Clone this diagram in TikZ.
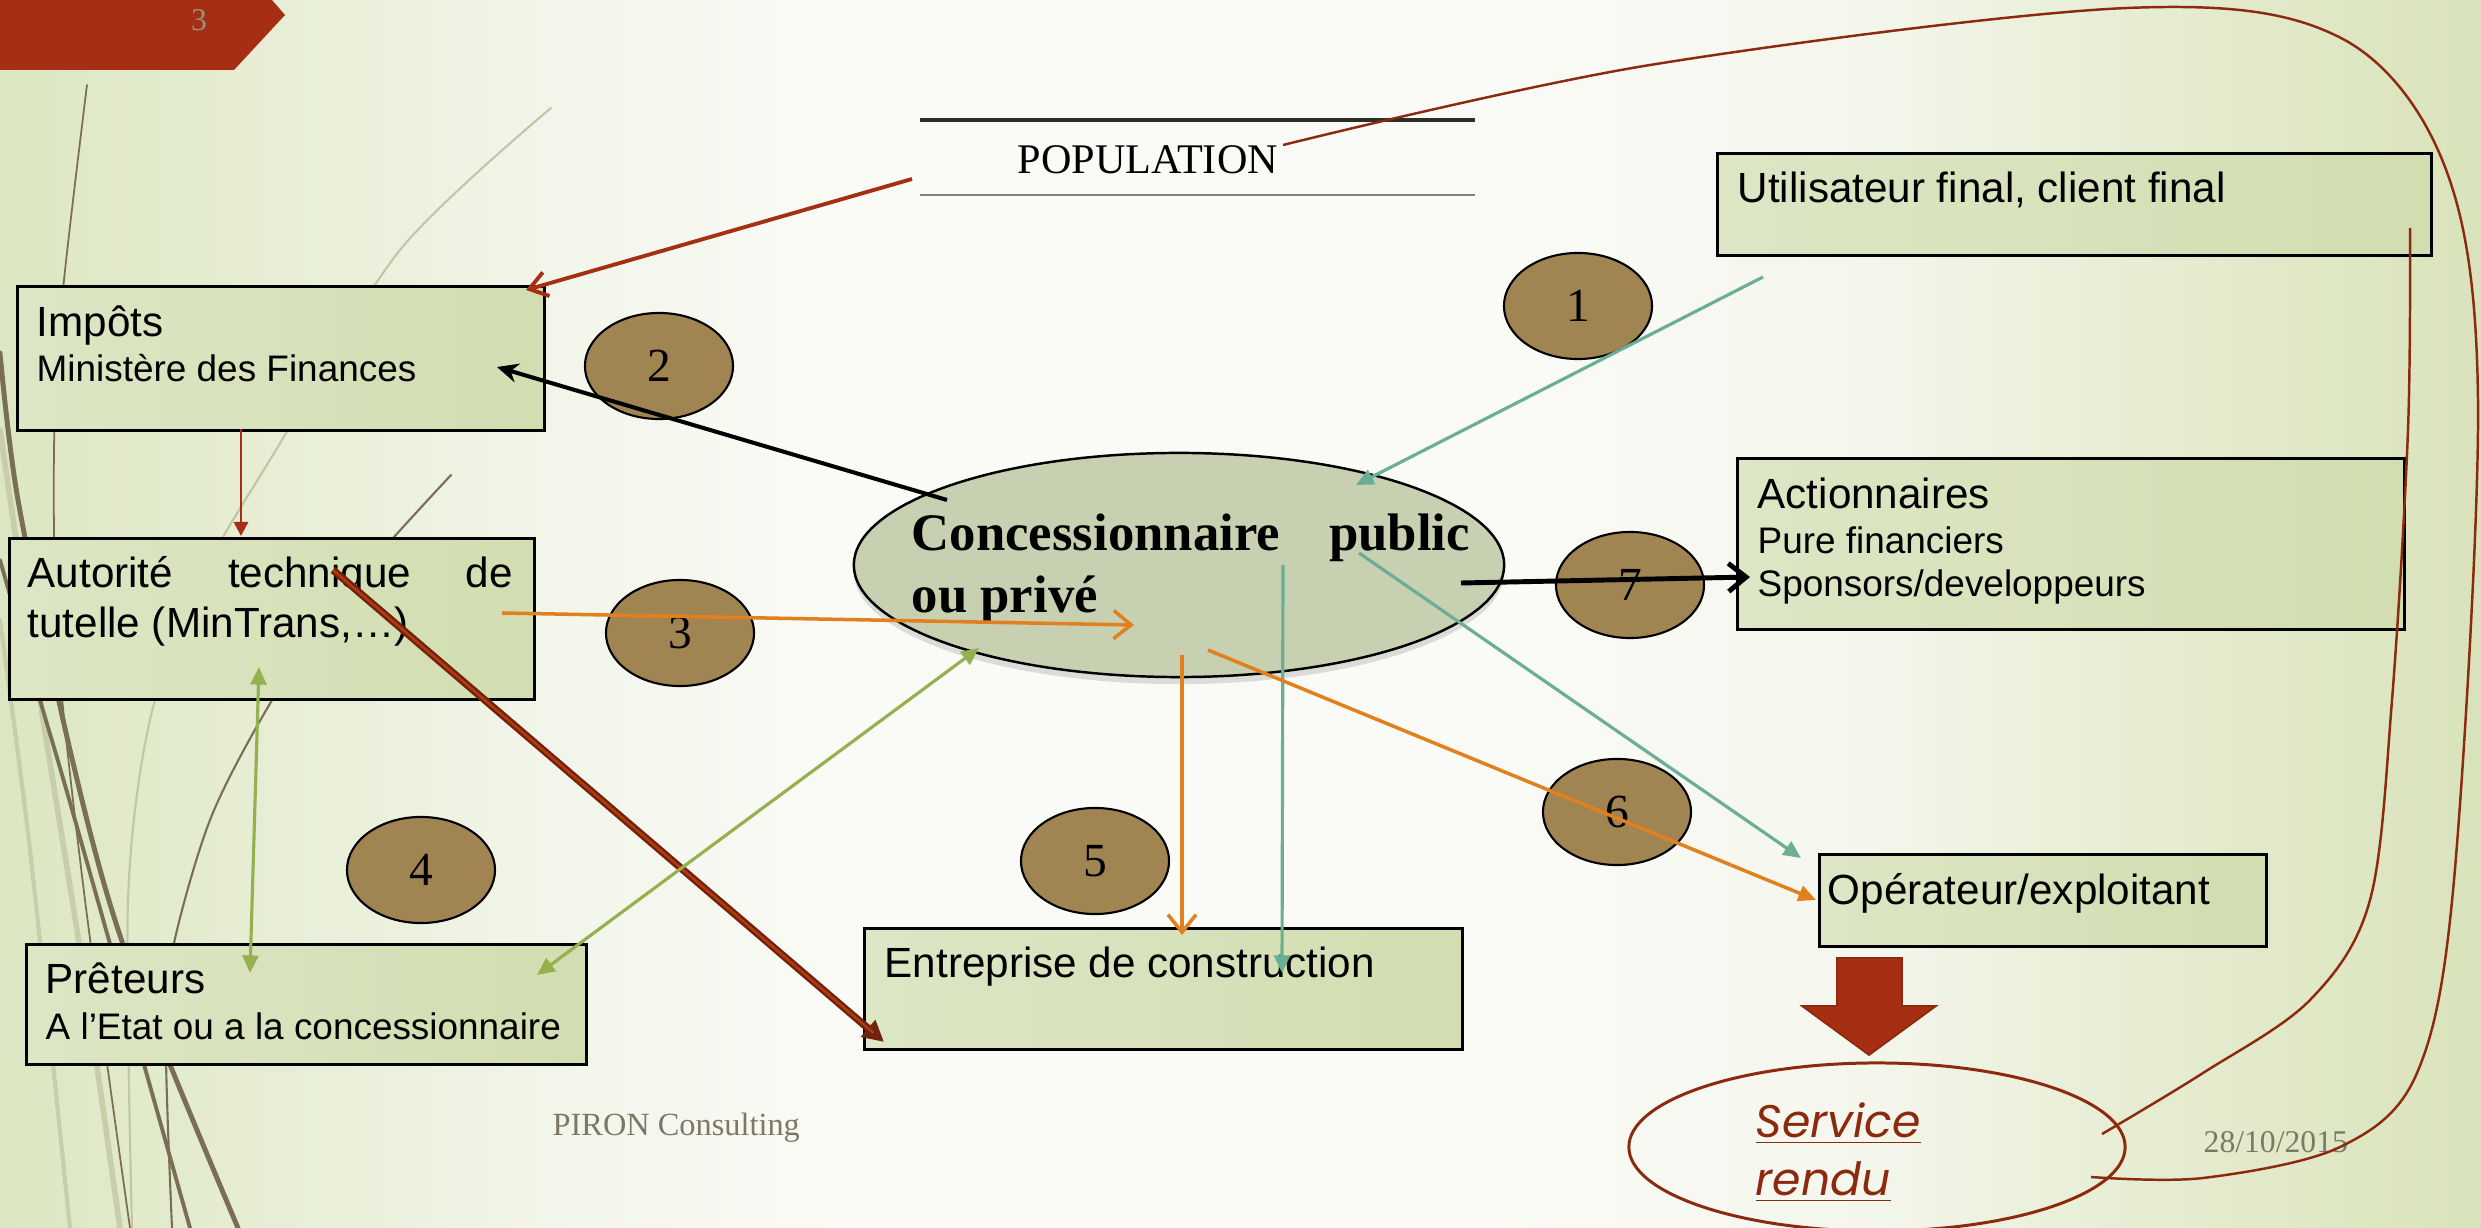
\documentclass[tikz,border=0pt]{standalone}
\usepackage{fontspec}
\setmainfont{Liberation Serif}
\setsansfont{Liberation Sans}
\newfontfamily\geofont{Poppins}
\usetikzlibrary{arrows.meta,calc,shapes.geometric,shadows}

\definecolor{boxL}{HTML}{DDE6C5}
\definecolor{boxR}{HTML}{D2DDB0}
\definecolor{disc}{HTML}{A08452}
\definecolor{ellfill}{HTML}{C7D0B0}
\definecolor{rust}{HTML}{A62E12}
\definecolor{darkrust}{HTML}{8C2A10}
\definecolor{tealc}{HTML}{6AAE96}
\definecolor{orangec}{HTML}{E2801E}
\definecolor{leaf}{HTML}{95B04E}
\definecolor{olive}{HTML}{7A6F56}
\definecolor{paleolive}{HTML}{C9CEAA}
\definecolor{graytext}{HTML}{7D7866}
\definecolor{rulecol}{HTML}{2B2F25}

% slide background: green edges fading to an almost white centre
\definecolor{sA}{HTML}{DCE6C2}
\definecolor{sB}{HTML}{E6EDD3}
\definecolor{sC}{HTML}{F2F5E9}
\definecolor{sD}{HTML}{FAFBF6}
\definecolor{sE}{HTML}{F5F7EE}
\definecolor{sF}{HTML}{E7EDD3}
\definecolor{sG}{HTML}{D9E3BA}
\pgfdeclarehorizontalshading{slidebg}{100bp}{color(0bp)=(sA); color(25bp)=(sA);
  color(30bp)=(sB); color(36bp)=(sC); color(42bp)=(sD); color(55bp)=(sD);
  color(62bp)=(sE); color(68bp)=(sF); color(75bp)=(sG); color(100bp)=(sG)}

\begin{document}
\begin{tikzpicture}[x=0.01cm,y=-0.01cm,
  box/.style={draw=black,line width=0.75pt,left color=boxL,right color=boxR,
    anchor=north west,inner sep=0pt},
  ttl/.style={anchor=base west,inner sep=0pt,font=\sffamily\fontsize{12}{14}\selectfont},
  sub/.style={anchor=base west,inner sep=0pt,font=\sffamily\fontsize{10.5}{12}\selectfont},
  disk/.style={ellipse,draw=black,line width=0.6pt,fill=disc,minimum width=1.48cm,
    minimum height=1.06cm,inner sep=0pt,font=\fontsize{13.5}{15}\selectfont},
  deco/.style={line cap=round},
  ftip/.style={-{Triangle[length=5pt,width=4.5pt]}},
  btip/.style={{Triangle[length=5pt,width=4.5pt]}-{Triangle[length=5pt,width=4.5pt]}}
]
\useasboundingbox (0,0) rectangle (2481,1228);

\shade[shading=slidebg] (0,0) rectangle (2481,1228);

% decorative stems on the left edge
\draw[deco,paleolive,line width=1.6pt] plot[smooth] coordinates {(0,430) (40,700) (80,950) (120,1228)};
\draw[deco,paleolive,line width=1.2pt] plot[smooth] coordinates {(0,620) (30,850) (70,1228)};
\draw[deco,paleolive!90!gray,line width=0.6pt] plot[smooth] coordinates {(551,108) (400,250) (276,450) (200,580) (150,720) (128,900) (132,1228)};
\draw[deco,olive,line width=0.5pt] plot[smooth] coordinates {(87,85) (62,300) (54,450) (58,650) (85,900) (130,1228)};
\draw[deco,olive,line width=1.4pt] plot[smooth] coordinates {(0,353) (18,500) (70,750) (125,950) (238,1228)};
\draw[deco,olive,line width=1.1pt] plot[smooth] coordinates {(0,560) (40,700) (75,820) (190,1228)};
\draw[deco,olive,line width=0.6pt] plot[smooth] coordinates {(451,475) (339,600) (268,707) (210,820) (172,953) (166,1053) (172,1228)};

% slide number tab
\fill[rust] (0,0) -- (272,0) -- (285,15) -- (234,70) -- (0,70) -- cycle;
\node[inner sep=0pt,text=graytext!80!white,font=\fontsize{9}{10}\selectfont] (slnum) at (199,20) {3};

% population heading with its rules
\draw[rulecol,line width=1.4pt] (920,120) -- (1475,120);
\draw[gray,line width=0.3pt] (920,195) -- (1475,195);
\node[anchor=base west,inner sep=0pt,font=\fontsize{12}{14}\selectfont] (pop) at (1017,174) {POPULATION};

% actor boxes
\node[box,minimum width=5.27cm,minimum height=1.44cm] (imp) at (16,285) {};
\node[ttl] (impA) at (36,337) {Impôts};
\node[sub] (impB) at (36,382) {Ministère des Finances};

\node[box,minimum width=7.14cm,minimum height=1.02cm] (util) at (1716,152) {};
\node[ttl] (utilA) at (1737,203) {Utilisateur final, client final};

\node[box,minimum width=5.25cm,minimum height=1.61cm] (aut) at (8,537) {};
\node[ttl] (autA) at (27,588) {\hbox to 4.85cm{Autorité\hfill technique\hfill de}};
\node[ttl] (autB) at (27,638) {tutelle (MinTrans,…)};

\node[box,minimum width=5.60cm,minimum height=1.20cm] (pret) at (25,943) {};
\node[ttl] (pretA) at (45,994) {Prêteurs};
\node[sub] (pretB) at (45,1040) {A l’Etat ou a la concessionnaire};

\node[box,minimum width=5.98cm,minimum height=1.21cm] (entr) at (863,927) {};
\node[ttl] (entrA) at (884,978) {Entreprise de construction};

\node[box,minimum width=6.67cm,minimum height=1.71cm] (act) at (1736,457) {};
\node[ttl] (actA) at (1757,509) {Actionnaires};
\node[sub] (actB) at (1757,554) {Pure financiers};
\node[sub] (actC) at (1757,597) {Sponsors/developpeurs};

\node[box,minimum width=4.47cm,minimum height=0.92cm] (oper) at (1818,853) {};
\node[ttl] (operA) at (1827,905) {Opérateur/exploitant};

% central concessionaire
\node[ellipse,draw=black,line width=0.7pt,fill=ellfill,minimum width=6.5cm,minimum height=2.24cm,
  inner sep=0pt,drop shadow={shadow xshift=0pt,shadow yshift=-2pt,opacity=0.25}] (conc) at (1179,565) {};
\node[anchor=base west,inner sep=0pt,font=\bfseries\fontsize{15}{17}\selectfont] (concA) at (911,551)
  {\hbox to 5.58cm{Concessionnaire\hfill public}};
\node[anchor=base west,inner sep=0pt,font=\bfseries\fontsize{15}{17}\selectfont] (concB) at (911,613) {ou privé};

% numbered discs
\node[disk] (n1) at (1578,306) {1};
\node[disk] (n2) at (659,366) {2};
\node[disk] (n3) at (680,633) {3};
\node[disk] (n4) at (421,870) {4};
\node[disk] (n5) at (1095,861) {5};
\node[disk] (n6) at (1617,812) {6};
\node[disk] (n7) at (1630,585) {7};

% service rendu
\node[ellipse,draw=darkrust,line width=0.85pt,minimum width=4.96cm,minimum height=1.68cm,inner sep=0pt] (serv) at (1877,1147) {};
\node[anchor=base west,inner sep=0pt,text=darkrust,font=\geofont\itshape\fontsize{13}{15}\selectfont] (servA) at (1755,1137) {\underline{Service}};
\node[anchor=base west,inner sep=0pt,text=darkrust,font=\geofont\itshape\fontsize{13}{15}\selectfont] (servB) at (1755,1195) {\underline{rendu}};
\draw[fill=rust,draw=darkrust,line width=0.5pt] (1837,958) -- (1902,958) -- (1902,1006) -- (1936,1006)
  -- (1869,1055) -- (1802,1006) -- (1837,1006) -- cycle;

% footer
\node[anchor=base west,inner sep=0pt,text=graytext,font=\fontsize{9.2}{11}\selectfont] (foot) at (552,1135) {PIRON Consulting};
\node[anchor=base west,inner sep=0pt,text=graytext,font=\fontsize{9}{11}\selectfont] (date) at (2203,1152) {28/10/2015};

% connector end points
\coordinate (popOut) at (912,179);
\coordinate (popCurve) at (1283,145);
\coordinate (impIn) at (526,290);
\coordinate (impBot) at (241,429);
\coordinate (autTop) at (241,536);
\coordinate (concNW) at (947,500);
\coordinate (impTip) at (497,367);
\coordinate (utilOut) at (1763,277);
\coordinate (concTop) at (1356,485);
\coordinate (autOut) at (502,613);
\coordinate (concIn) at (1134,625);
\coordinate (autWord) at (333,570);
\coordinate (entrCorner) at (884,1042);
\coordinate (autLow) at (259,667);
\coordinate (pretTop) at (250,973);
\coordinate (concSW) at (979,648);
\coordinate (pretRight) at (537,975);
\coordinate (concBot) at (1182,655);
\coordinate (entrTop) at (1182,935);
\coordinate (concMid) at (1283,565);
\coordinate (entrText) at (1282,973);
\coordinate (concSE) at (1208,650);
\coordinate (operL) at (1816,900);
\coordinate (concE) at (1359,553);
\coordinate (operNW) at (1801,858);
\coordinate (concR) at (1461,583);
\coordinate (actL) at (1750,577);
\coordinate (utilCorner) at (2410,228);
\coordinate (servR1) at (2102,1134);
\coordinate (servR2) at (2091,1177);

% connectors
\draw[rust,line width=1.1pt,-{Straight Barb[length=5pt,width=7pt]}] (popOut) -- (impIn);
\draw[rust,line width=0.85pt,-{Triangle[length=4pt,width=4pt]}] (impBot) -- (autTop);
\draw[black,line width=1.15pt,-{Stealth[length=6pt,width=5.5pt]}] (concNW) -- (impTip);
\draw[tealc,line width=0.9pt,ftip] (utilOut) -- (concTop);
\draw[orangec,line width=1pt,-{Straight Barb[length=5pt,width=8pt]}] (autOut) -- (concIn);
\draw[darkrust!80!black,line width=2.1pt,-{Triangle[length=6pt,width=6pt]}] (autWord) -- (entrCorner);
\draw[rust!85!orange,line width=0.7pt,shorten >=4pt] (autWord) -- (entrCorner);
\draw[leaf,line width=0.9pt,btip] (autLow) -- (pretTop);
\draw[leaf,line width=0.9pt,btip] (concSW) -- (pretRight);
\draw[orangec,line width=1pt,-{Straight Barb[length=5pt,width=8pt]}] (concBot) -- (entrTop);
\draw[tealc,line width=0.9pt,ftip] (concMid) -- (entrText);
\draw[orangec,line width=1pt,ftip] (concSE) -- (operL);
\draw[tealc,line width=0.9pt,ftip] (concE) -- (operNW);
\draw[black,line width=1.4pt,-{Straight Barb[length=5pt,width=8pt]}] (concR) -- (actL);

% feedback loops to the service rendu
\draw[darkrust,line width=0.7pt] plot[smooth,tension=0.55] coordinates {(popCurve) (1650,65) (2127,8) (2339,37) (2445,167) (2478,400) (2454,880) (2417,1073) (2340,1147) (2203,1178) (servR2)};
\draw[darkrust,line width=0.7pt] plot[smooth,tension=0.55] coordinates {(utilCorner) (2408,430) (2392,700) (2370,900) (2310,1000) (2203,1073) (servR1)};

\end{tikzpicture}
\end{document}
